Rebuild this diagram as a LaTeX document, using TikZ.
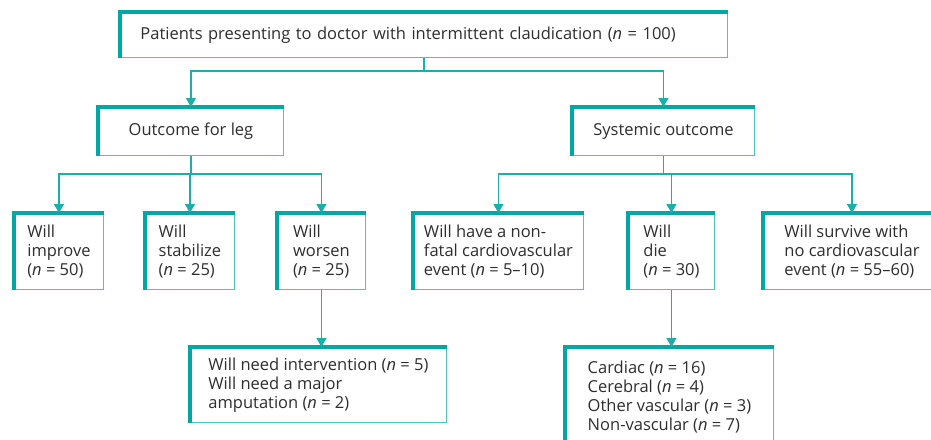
\documentclass[tikz,border=0pt]{standalone}
\usepackage{fontspec}
\setmainfont{Open Sans}
\usetikzlibrary{arrows.meta}
\definecolor{tealdark}{HTML}{00A8A3}
\definecolor{teallight}{HTML}{4CC4C0}
\definecolor{tealline}{HTML}{1AAFAA}
\definecolor{ink}{HTML}{2E2E2E}
\tikzset{
  box/.style={draw=teallight, line width=0.9pt, anchor=north west, inner xsep=4pt,
    inner ysep=0pt, text=ink, font=\fontsize{16.5}{19}\selectfont, align=left},
  rim/.style={draw=tealdark, line width=4pt},
  conn/.style={draw=tealline, line width=1.2pt, -{Triangle[width=10pt,length=9pt]}},
}
\newcommand{\nn}{\textit{n}}

\begin{document}
\begin{tikzpicture}[x=1pt,y=-1pt]
  \useasboundingbox (0,0) rectangle (931,439);
  \fill[white] (0,0) rectangle (931,439);
  % top level
  \node[box, inner xsep=20pt, text width=567pt, minimum height=45pt] (top) at (120,12)
    {Patients presenting to doctor with intermittent claudication (\nn{} = 100)};
  % second level
  \node[box, minimum width=185pt, minimum height=48pt] (leg) at (98,107) {Outcome for leg};
  \node[box, minimum width=182pt, minimum height=48pt] (sys) at (572,107) {Systemic outcome};
  % third level
  \node[box, minimum width=89pt, minimum height=76pt] (imp) at (14,213) {Will\\improve\\(\nn{} = 50)};
  \node[box, minimum width=89pt, minimum height=76pt] (stab) at (145,213) {Will\\stabilize\\(\nn{} = 25)};
  \node[box, minimum width=88pt, minimum height=76pt] (wors) at (277,213) {Will\\worsen\\(\nn{} = 25)};
  \node[box, minimum width=170pt, minimum height=76pt] (nonf) at (413,213)
    {Will have a non-\\fatal cardiovascular\\event (\nn{} = 5–10)};
  \node[box, minimum width=86pt, minimum height=76pt] (die) at (628,213) {Will\\die\\(\nn{} = 30)};
  \node[box, minimum width=177pt, minimum height=76pt] (surv) at (763,213)
    {Will survive with\\no cardiovascular\\event (\nn{} = 55–60)};
  % fourth level
  \node[box, minimum width=256pt, minimum height=75pt] (interv) at (190,347)
    {Will need intervention (\nn{} = 5)\\Will need a major\\amputation (\nn{} = 2)};
  \node[box, minimum width=208pt, minimum height=100pt] (cause) at (565,347)
    {Cardiac (\nn{} = 16)\\Cerebral (\nn{} = 4)\\Other vascular (\nn{} = 3)\\Non-vascular (\nn{} = 7)};
  \foreach \b in {top,leg,sys,imp,stab,wors,nonf,die,surv,interv,cause}
    \draw[rim] (\b.south west) -- (\b.north west) -- (\b.north east);
  % connectors
  \draw[conn] (top.south) -- ++(0,13) -| (leg.north);
  \draw[conn] (top.south) -- ++(0,13) -| (sys.north);
  \foreach \c in {imp,stab,wors}
    \draw[conn] (leg.south) -- ++(0,18) -| (\c.north);
  \foreach \c in {nonf,die,surv}
    \draw[conn] (sys.south) -- ++(0,18) -| (\c.north);
  \draw[conn] (wors.south) -- (wors.south |- interv.north);
  \draw[conn] (die.south) -- (die.south |- cause.north);
\end{tikzpicture}
\end{document}
